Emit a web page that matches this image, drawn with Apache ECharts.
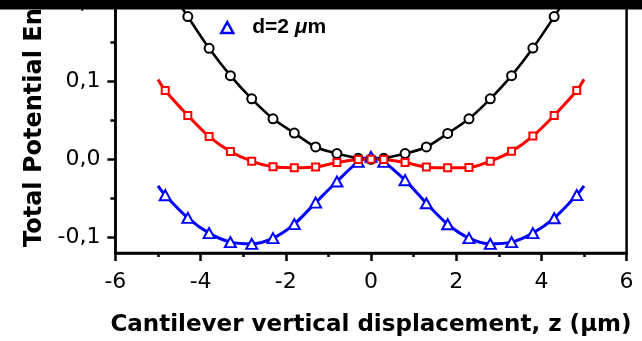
<!DOCTYPE html>
<html>
<head>
<meta charset="utf-8">
<script src="https://cdn.jsdelivr.net/npm/echarts@6/dist/echarts.min.js"></script>
<style>
html,body{margin:0;padding:0;background:#fff;}
#chart{width:642px;height:341px;}
</style>
</head>
<body>
<div id="chart"></div>
<script>
// Cantilever vertical displacement z (um)
const zValues = [-5, -4.83, -4.3, -3.8, -3.3, -2.8, -2.3, -1.8, -1.3, -0.8, -0.3, 0, 0.3, 0.8, 1.3, 1.8, 2.3, 2.8, 3.3, 3.8, 4.3, 4.83, 5];
// Total potential energy (black curve, circles)
const blackValues = [0.25, 0.228, 0.1826, 0.142, 0.107, 0.0773, 0.0518, 0.0335, 0.0157, 0.0073, 0.0012, 0, 0.0012, 0.0073, 0.0157, 0.0330, 0.0518, 0.0773, 0.107, 0.1423, 0.1826, 0.228, 0.25];
// red curve, squares
const redValues = [0.102, 0.088, 0.056, 0.029, 0.010, -0.0025, -0.0097, -0.0108, -0.0098, -0.0042, -0.0004, 0, -0.0002, -0.0042, -0.0098, -0.011, -0.0106, -0.0025, 0.0101, 0.0297, 0.0561, 0.088, 0.1025];
// blue curve, triangles (d=2 um)
const blueValues = [-0.034, -0.046, -0.075, -0.0946, -0.1061, -0.1083, -0.101, -0.083, -0.0555, -0.0285, -0.0034, 0.003, -0.0034, -0.0268, -0.0564, -0.0832, -0.101, -0.1083, -0.1061, -0.0946, -0.0755, -0.0459, -0.034];

const xTicks = [-6, -4, -2, 0, 2, 4, 6];
const yMajorTicks = [-0.1, 0, 0.1, 0.2];
const yMinorTicks = [-0.05, 0.05, 0.15];
const blueName = 'd=2 μm';
const xTitle = 'Cantilever vertical displacement, z (μm)';
const yTitle = 'Total Potential Energy';

function toData(vals) {
  const last = zValues.length - 1;
  return zValues.map((z, i) => {
    const d = { value: [z, vals[i]] };
    if (i === 0 || i === last) d.symbol = 'none';
    return d;
  });
}

const chart = echarts.init(document.getElementById('chart'), null, { renderer: 'canvas' });
const fmt = v => (Math.abs(v) < 1e-9 ? '0,0' : v.toFixed(1).replace('.', ','));

chart.setOption({
  backgroundColor: '#fff',
  animation: false,
  grid: {
    left: 115.4, right: 15.4, top: 3, bottom: 88,
    outerBoundsMode: 'none', containLabel: false,
    show: true, borderColor: '#000', borderWidth: 2.5, backgroundColor: 'transparent'
  },
  legend: {
    data: [{ name: blueName, icon: 'triangle', itemStyle: { color: '#fff', borderColor: '#0000ff', borderWidth: 2.5 } }],
    left: 215, top: 12,
    itemWidth: 12, itemHeight: 11,
    formatter: () => 'd=2 {mu|μ}m',
    textStyle: {
      fontFamily: 'Liberation Sans', fontWeight: 'bold', fontSize: 21, color: '#000',
      padding: [0, 0, 0, 14],
      rich: { mu: { fontFamily: 'Liberation Sans', fontWeight: 'bold', fontStyle: 'italic', fontSize: 21, color: '#000' } }
    }
  },
  xAxis: {
    type: 'value', min: -6, max: 6, interval: 2,
    name: xTitle, nameLocation: 'middle', nameGap: 61,
    nameTextStyle: { fontFamily: 'DejaVu Sans', fontWeight: 'bold', fontSize: 23, color: '#000' },
    axisLine: { show: true, onZero: false, lineStyle: { color: '#000', width: 2.5 } },
    axisTick: { show: true, inside: false, length: 8, lineStyle: { color: '#000', width: 2.5 } },
    minorTick: { show: true, splitNumber: 2, length: 4, lineStyle: { color: '#000', width: 2.5 } },
    axisLabel: { margin: 18, fontFamily: 'DejaVu Sans', fontSize: 22, color: '#000',
      customValues: xTicks, formatter: v => String(v) },
    splitLine: { show: false }
  },
  yAxis: [{
    type: 'value', min: -0.12, max: 0.2, interval: 0.04,
    axisLine: { show: true, onZero: false, lineStyle: { color: '#000', width: 2.5 } },
    axisTick: { show: true, inside: false, length: 8, customValues: yMajorTicks, lineStyle: { color: '#000', width: 2.5 } },
    axisLabel: { margin: 15, fontFamily: 'DejaVu Sans', fontSize: 22, color: '#000',
      customValues: yMajorTicks, formatter: fmt },
    splitLine: { show: false }
  }, {
    type: 'value', min: -0.12, max: 0.2, interval: 0.04, position: 'left',
    axisLine: { show: false, onZero: false },
    axisTick: { show: true, inside: false, length: 5, customValues: yMinorTicks, lineStyle: { color: '#000', width: 2.5 } },
    axisLabel: { show: false },
    splitLine: { show: false }
  }],
  series: [{
    name: 'black', type: 'line', data: toData(blackValues), smooth: 0.3,
    symbol: 'emptyCircle', symbolSize: 9,
    lineStyle: { color: '#000', width: 2.6 },
    itemStyle: { color: '#000', borderColor: '#000', borderWidth: 2.3 }
  }, {
    name: blueName, type: 'line', data: toData(blueValues), smooth: 0.3,
    symbol: 'emptyTriangle', symbolSize: [11, 10],
    lineStyle: { color: '#0000ff', width: 3 },
    itemStyle: { color: '#0000ff', borderColor: '#0000ff', borderWidth: 2.3 }
  }, {
    name: 'red', type: 'line', data: toData(redValues), smooth: 0.3,
    symbol: 'emptyRect', symbolSize: 7,
    lineStyle: { color: '#ff0000', width: 3 },
    itemStyle: { color: '#ff0000', borderColor: '#ff0000', borderWidth: 2.2 }
  }],
  graphic: [{
    type: 'text', x: 35, y: 247, rotation: Math.PI / 2,
    style: { text: yTitle, fontFamily: 'DejaVu Sans', fontWeight: 'bold', fontSize: 24, fill: '#000',
      textAlign: 'left', textVerticalAlign: 'middle' }
  }, {
    type: 'rect', left: 0, top: 0, z: 100,
    shape: { width: 642, height: 9.5 }, style: { fill: '#000' }
  }]
});
</script>
</body>
</html>
